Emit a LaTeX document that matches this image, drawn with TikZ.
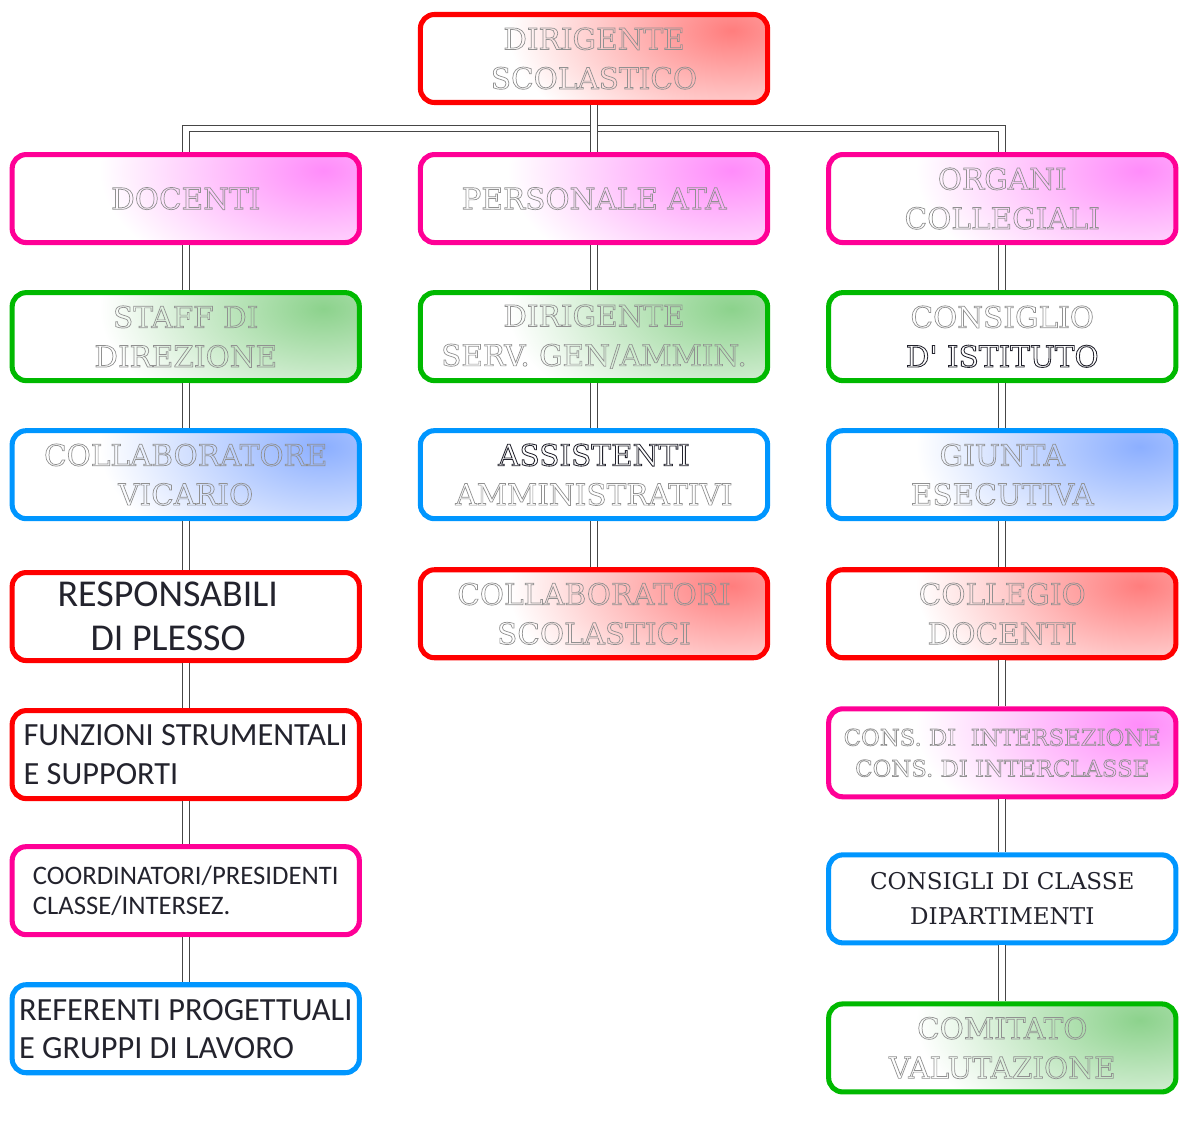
\documentclass[tikz,border=0pt]{standalone}
\usepackage{fontspec}
\usetikzlibrary{positioning, calc}

\newfontfamily\engrfont{DejaVu Serif}
\newfontfamily\calibfont{Carlito}

\definecolor{bordred}{RGB}{255,0,0}
\definecolor{bordpink}{RGB}{255,0,150}
\definecolor{bordgreen}{RGB}{0,185,0}
\definecolor{bordblue}{RGB}{0,150,255}
\definecolor{tintred}{RGB}{255,125,125}
\definecolor{tintpink}{RGB}{255,140,250}
\definecolor{tintgreen}{RGB}{140,210,140}
\definecolor{tintblue}{RGB}{140,175,255}
\definecolor{hollowgray}{RGB}{145,145,145}
\definecolor{darktext}{RGB}{35,35,45}

% sfumature d'angolo
\pgfdeclareradialshading{glowred}{\pgfpoint{0bp}{0bp}}{color(0bp)=(tintred); color(14bp)=(white); color(50bp)=(white)}
\pgfdeclareradialshading{glowpink}{\pgfpoint{0bp}{0bp}}{color(0bp)=(tintpink); color(14bp)=(white); color(50bp)=(white)}
\pgfdeclareradialshading{glowgreen}{\pgfpoint{0bp}{0bp}}{color(0bp)=(tintgreen); color(14bp)=(white); color(50bp)=(white)}
\pgfdeclareradialshading{glowblue}{\pgfpoint{0bp}{0bp}}{color(0bp)=(tintblue); color(14bp)=(white); color(50bp)=(white)}

% testo in contorno (solo bordo delle lettere)
\newcommand{\hollow}[1]{{\color{hollowgray}\special{pdf:literal direct 1 Tr 0.5 w}#1\special{pdf:literal direct 0 Tr}}}
\newcommand{\hollowdark}[1]{{\color{darktext}\special{pdf:literal direct 1 Tr 0.6 w}#1\special{pdf:literal direct 0 Tr}}}

\begin{document}
\begin{tikzpicture}[
  node distance=1.125cm and 1.4cm,
  align=center,
  % Stili dei riquadri
  box/.style={draw, rectangle, rounded corners=10pt, line width=3.6pt, minimum width=8.68cm, minimum height=2.2cm, inner sep=2pt, fill=white, font=\engrfont\fontsize{21}{28}\selectfont},
  tinted/.style={fill=white, path picture={
      \shade[shading=#1] ([xshift=-0.9cm, yshift=-0.4cm]path picture bounding box.north east) ellipse (10cm and 5.5cm);}},
  redbox/.style={box, draw=bordred, tinted=glowred},
  pinkbox/.style={box, draw=bordpink, tinted=glowpink},
  greenbox/.style={box, draw=bordgreen, tinted=glowgreen},
  bluebox/.style={box, draw=bordblue, tinted=glowblue},
  plainbox/.style={box, fill=white},
  sanstext/.style args={#1/#2}{font=\calibfont\fontsize{#1}{#2}\selectfont, text=darktext},
  % Stile dei collegamenti
  conn/.style={draw=gray!55!black, line width=0.8pt, double=white, double distance=4pt}
]
  \useasboundingbox (0,0) rectangle (29.525,-28.525);

  % ==========================================
  % VERTICE
  % ==========================================
  \node[redbox] (dirigente) at (14.85,-1.4625) {\hollow{DIRIGENTE}\\\hollow{SCOLASTICO}};

  % ==========================================
  % PRIMA RIGA
  % ==========================================
  \node[pinkbox, below=1.175cm of dirigente] (personale) {\hollow{PERSONALE ATA}};
  \node[pinkbox, left=of personale] (docenti) {\hollow{DOCENTI}};
  \node[pinkbox, right=of personale] (organi) {\hollow{ORGANI}\\\hollow{COLLEGIALI}};

  \coordinate (bar) at ($(dirigente.south)!0.5!(personale.north)$);
  \draw[conn] (docenti) |- (bar) -| (organi);
  \draw[conn] (dirigente) -- (personale);

  % ==========================================
  % COLONNA DOCENTI
  % ==========================================
  \node[greenbox, below=of docenti] (staff) {\hollow{STAFF DI}\\\hollow{DIREZIONE}};
  \node[bluebox, below=of staff] (vicario) {\hollow{COLLABORATORE}\\\hollow{VICARIO}};
  \node[plainbox, draw=bordred, below=1.22cm of vicario, sanstext=27pt/31pt, align=left] (plesso) {RESPONSABILI\hspace*{0.9cm}\\\hspace*{0.825cm}DI PLESSO};
  \node[plainbox, draw=bordred, below=of plesso, sanstext=23pt/28pt, align=left] (funzioni) {FUNZIONI STRUMENTALI\\E SUPPORTI};
  \node[plainbox, draw=bordpink, below=1.075cm of funzioni, sanstext=19pt/21.5pt, align=left] (coordinatori) {COORDINATORI/PRESIDENTI\\CLASSE/INTERSEZ.};
  \node[plainbox, draw=bordblue, below=of coordinatori, sanstext=23pt/27pt, align=left] (referenti) {REFERENTI PROGETTUALI\\E GRUPPI DI LAVORO};

  % ==========================================
  % COLONNA PERSONALE ATA
  % ==========================================
  \node[greenbox, below=of personale] (dsga) {\hollow{DIRIGENTE}\\\hollow{SERV. GEN/AMMIN.}};
  \node[plainbox, draw=bordblue, below=of dsga] (assistenti) {\hollowdark{ASSISTENTI}\\\hollow{AMMINISTRATIVI}};
  \node[redbox, below=1.15cm of assistenti] (collscol) {\hollow{COLLABORATORI}\\\hollow{SCOLASTICI}};

  % ==========================================
  % COLONNA ORGANI COLLEGIALI
  % ==========================================
  \node[plainbox, draw=bordgreen, below=of organi] (istituto) {\hollow{CONSIGLIO}\\\hollowdark{D' ISTITUTO}};
  \node[bluebox, below=of istituto] (giunta) {\hollow{GIUNTA}\\\hollow{ESECUTIVA}};
  \node[redbox, below=1.15cm of giunta] (collegio) {\hollow{COLLEGIO}\\\hollow{DOCENTI}};
  \node[pinkbox, below=1.15cm of collegio, font=\engrfont\fontsize{16.2}{22}\selectfont] (intersezione) {\hollow{CONS. DI\ \ INTERSEZIONE}\\\hollow{CONS. DI INTERCLASSE}};
  \node[plainbox, draw=bordblue, below=1.325cm of intersezione, font=\engrfont\fontsize{16.4}{25}\selectfont, text=darktext] (classe) {CONSIGLI DI CLASSE\\DIPARTIMENTI};
  \node[greenbox, below=1.4cm of classe] (comitato) {\hollow{COMITATO}\\\hollow{VALUTAZIONE}};

  % Collegamenti verticali
  \foreach \a/\b in {docenti/staff, staff/vicario, vicario/plesso, plesso/funzioni, funzioni/coordinatori, coordinatori/referenti,
                     personale/dsga, dsga/assistenti, assistenti/collscol,
                     organi/istituto, istituto/giunta, giunta/collegio, collegio/intersezione, intersezione/classe, classe/comitato}
    \draw[conn] (\a) -- (\b);

\end{tikzpicture}
\end{document}
